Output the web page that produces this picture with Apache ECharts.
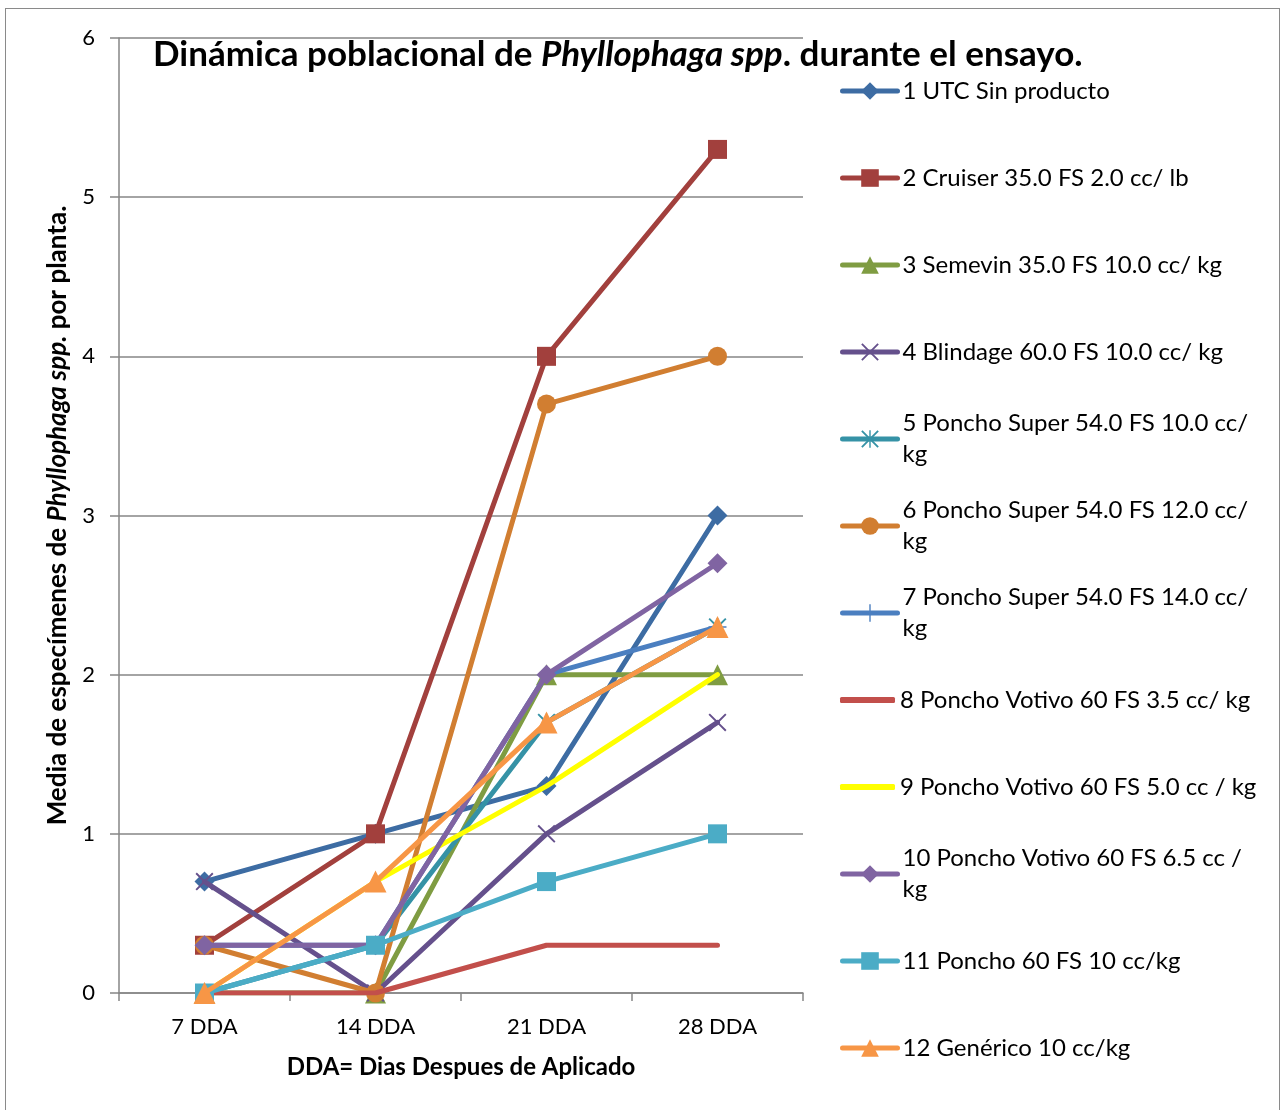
<!DOCTYPE html>
<html>
<head>
<meta charset="utf-8">
<script src="https://cdn.jsdelivr.net/npm/echarts@6/dist/echarts.min.js"></script>
<style>
    html,body{margin:0;padding:0;background:#fff;}
    #frame{position:absolute;left:5px;top:8px;width:1273px;height:1130px;border:1.5px solid #8a8a8a;}
    #chart{position:absolute;left:0;top:0;width:1282px;height:1110px;}
</style>
</head>
<body>
<div id="frame"></div>
<div id="chart"></div>
<script>
    // data
    var categories = ['7 DDA', '14 DDA', '21 DDA', '28 DDA'];
    var yTicks = [0, 1, 2, 3, 4, 5, 6];
    var names = [
        '1 UTC Sin producto',
        '2 Cruiser 35.0 FS 2.0 cc/ lb',
        '3 Semevin 35.0 FS 10.0 cc/ kg',
        '4 Blindage 60.0 FS 10.0 cc/ kg',
        '5 Poncho Super 54.0 FS 10.0 cc/ kg',
        '6 Poncho Super 54.0 FS 12.0 cc/ kg',
        '7 Poncho Super 54.0 FS 14.0 cc/ kg',
        '8 Poncho Votivo 60 FS 3.5 cc/ kg',
        '9 Poncho Votivo 60 FS 5.0 cc / kg',
        '10 Poncho Votivo 60 FS 6.5 cc / kg',
        '11 Poncho 60 FS 10 cc/kg',
        '12 Genérico 10 cc/kg'
    ];
    var s1 = [0.7, 1.0, 1.3, 3.0];
    var s2 = [0.3, 1.0, 4.0, 5.3];
    var s3 = [0.0, 0.0, 2.0, 2.0];
    var s4 = [0.7, 0.0, 1.0, 1.7];
    var s5 = [0.0, 0.3, 1.7, 2.3];
    var s6 = [0.3, 0.0, 3.7, 4.0];
    var s7 = [0.3, 0.3, 2.0, 2.3];
    var s8 = [0.0, 0.0, 0.3, 0.3];
    var s9 = [0.0, 0.7, 1.3, 2.0];
    var s10 = [0.3, 0.3, 2.0, 2.7];
    var s11 = [0.0, 0.3, 0.7, 1.0];
    var s12 = [0.0, 0.7, 1.7, 2.3];
    var values = [s1, s2, s3, s4, s5, s6, s7, s8, s9, s10, s11, s12];

    // estilos
    var colors = ['#3d6ca3', '#a2403d', '#7f9c42', '#65508c', '#3592a6', '#d17e31',
                  '#4b7fc0', '#c24f4b', '#ffff00', '#8064a2', '#4bacc6', '#f79646'];
    var xPath = 'path://M0,1.5 L1.5,0 L10,8.5 L18.5,0 L20,1.5 L11.5,10 L20,18.5 L18.5,20 L10,11.5 L1.5,20 L0,18.5 L8.5,10 Z';
    var plusPath = 'path://M9.2,0 H10.8 V9.2 H20 V10.8 H10.8 V20 H9.2 V10.8 H0 V9.2 H9.2 Z';
    var starPath = xPath + ' M9.2,0 H10.8 V20 H9.2 Z';
    var symbols = ['diamond', 'rect', 'triangle', xPath, starPath, 'circle', plusPath, 'none', 'none', 'diamond', 'rect', 'triangle'];
    var sizes = [20, 19, 21, 18, 18, 19, 18, 0, 0, 20, 19, 22];
    var wrapped = [4, 5, 6, 9];
    var font = 'Lato, "Open Sans", sans-serif';
    var lh = 31;

    var myChart = echarts.init(document.getElementById('chart'));

    var series = [], legends = [];
    names.forEach(function (n, i) {
        series.push({
            name: n,
            type: 'line',
            data: values[i],
            symbol: symbols[i],
            symbolSize: sizes[i],
            color: colors[i],
            lineStyle: {width: 5, color: colors[i], cap: 'round'},
            itemStyle: {color: colors[i]},
            emphasis: {disabled: true},
            z: 2 + i
        });
        var isWrap = wrapped.indexOf(i) >= 0;
        var noMark = symbols[i] === 'none';
        legends.push({
            data: [noMark ? {name: n, icon: 'roundRect'} : n],
            left: 840,
            top: 91 + 87 * i - (isWrap ? lh * 1.5 : lh / 2),
            orient: 'vertical',
            padding: 0,
            itemWidth: 55,
            itemHeight: noMark ? 6 : 22,
            itemGap: 0,
            selectedMode: false,
            lineStyle: {width: 5, cap: 'round'},
            formatter: function (name) {
                return isWrap ? name.replace(/ kg$/, '\nkg') : name;
            },
            textStyle: {
                fontFamily: font,
                fontSize: 24,
                lineHeight: lh,
                color: '#000',
                padding: isWrap ? [lh, 0, 0, 0] : 0
            }
        });
    });

    var option = {
        animation: false,
        title: {
            text: '{b|Dinámica poblacional de }{bi|Phyllophaga spp}{b|. durante el ensayo.}',
            left: 153,
            top: 37,
            padding: 0,
            textStyle: {
                rich: {
                    b: {fontFamily: font, fontSize: 35, fontWeight: 'bold', color: '#000'},
                    bi: {fontFamily: font, fontSize: 35, fontWeight: 'bold', fontStyle: 'italic', color: '#000'}
                }
            }
        },
        legend: legends,
        grid: {left: 119, right: 479, top: 38, bottom: 117, containLabel: false},
        xAxis: {
            type: 'category',
            data: categories,
            boundaryGap: true,
            name: 'DDA= Dias Despues de Aplicado',
            nameLocation: 'middle',
            nameGap: 62,
            nameTextStyle: {fontFamily: font, fontSize: 24, fontWeight: 'bold', color: '#000'},
            axisLine: {lineStyle: {color: '#868686', width: 1.5}},
            axisTick: {show: true, length: 8, lineStyle: {color: '#868686', width: 1.5}},
            axisLabel: {fontFamily: font, fontSize: 22, color: '#000', margin: 23}
        },
        yAxis: {
            type: 'value',
            min: yTicks[0],
            max: yTicks[yTicks.length - 1],
            interval: 1,
            name: '{b|Media de especímenes de }{bi|Phyllophaga spp.}{b| por planta.}',
            nameLocation: 'middle',
            nameRotate: 90,
            nameGap: 48,
            nameTextStyle: {
                rich: {
                    b: {fontFamily: font, fontSize: 26, fontWeight: 'bold', color: '#000'},
                    bi: {fontFamily: font, fontSize: 26, fontWeight: 'bold', fontStyle: 'italic', color: '#000'}
                }
            },
            axisLine: {show: true, lineStyle: {color: '#868686', width: 1.5}},
            axisTick: {show: true, length: 9, lineStyle: {color: '#868686', width: 1.5}},
            axisLabel: {fontFamily: font, fontSize: 22, color: '#000', margin: 24},
            splitLine: {show: true, lineStyle: {color: '#868686', width: 1.5}}
        },
        series: series
    };
    myChart.setOption(option);
</script>
</body>
</html>
